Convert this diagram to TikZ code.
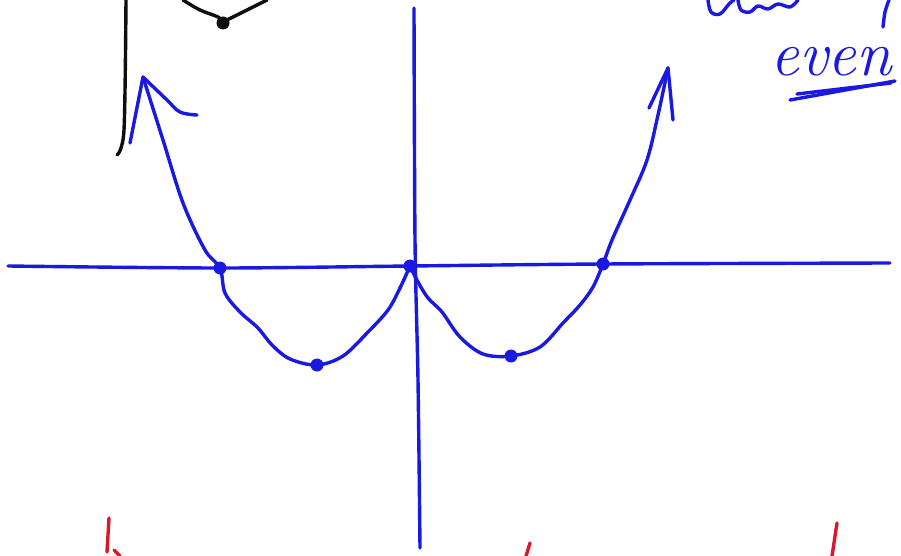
\documentclass[tikz,border=0pt]{standalone}
\usepackage{tikz}
\usetikzlibrary{positioning}
\definecolor{penblue}{RGB}{25, 25, 225}
\definecolor{penred}{RGB}{215, 25, 45}
\definecolor{penblack}{RGB}{15, 15, 15}
\tikzset{
  ink/.style={
    draw=penblue,
    line width=3.4pt,
    line cap=round,
    line join=round
  },
  blackink/.style={
    ink,
    draw=penblack
  },
  redink/.style={
    ink,
    draw=penred
  },
  dot/.style={
    fill=penblue
  },
  scrawl/.style={
    text=penblue,
    inner sep=0pt,
    anchor=base west,
    font=\fontsize{64}{64}\selectfont\itshape
  }
}

\begin{document}
\begin{tikzpicture}[x=1pt, y=-1pt]
          \useasboundingbox (0,0) rectangle (901,556);
          \clip (0,0) rectangle (901,556);

          % points on the curve
          \coordinate (z1) at (220,268);
          \coordinate (m1) at (317,365);
          \coordinate (o) at (410,266);
          \coordinate (m2) at (511,356);
          \coordinate (z2) at (603,264);
          \coordinate (tipL) at (143,77);
          \coordinate (tipR) at (668,68);

          % axes
          \draw[ink] plot[smooth, tension=0.5] coordinates {(8,266) (z1) (o) (z2) (890,263)};
          \draw[ink] plot[smooth, tension=0.5] coordinates {(414,8) (415,240) (418,380) (420,548)};

          % left branch
          \draw[ink] plot[smooth, tension=0.55] coordinates {(tipL) (163,140) (183,203) (205,250) (z1)
            (225,293) (240,312) (258,328) (272,345) (290,359) (m1) (343,356) (368,332) (388,310) (400,288) (o)};
          % right branch
          \draw[ink] plot[smooth, tension=0.55] coordinates {(o) (418,282) (428,298) (442,312) (460,337)
            (483,354) (m2) (540,347) (563,323) (580,305) (593,287) (z2) (612,240) (630,200) (647,160) (658,115) (tipR)};

          % hand drawn arrow heads
          \draw[ink] (tipL) -- (130,143);
          \draw[ink] plot[smooth, tension=0.6] coordinates {(tipL) (167,100) (180,112) (197,115)};
          \draw[ink] (tipR) -- (649,108);
          \draw[ink] (tipR) -- (673,120);

          % marked points
          \foreach \p in {z1, m1, o, m2, z2}
            \fill[dot] (\p) circle (6.5pt);

          % black sketch, top left
          \draw[blackink] plot[smooth, tension=0.5] coordinates {(126,0) (124,130) (117,155)};
          \draw[blackink] plot[smooth, tension=0.6] coordinates {(183,0) (200,10) (218,17) (223,22)};
          \draw[blackink] plot[smooth, tension=0.6] coordinates {(223,22) (237,15) (253,7) (267,0)};
          \coordinate (bd) at (223,23);
          \fill[penblack] (bd) circle (6.5pt);

          % note, top right
          \draw[ink] plot[smooth, tension=0.6] coordinates {(708,0) (711,12) (720,14) (729,4) (734,0)};
          \draw[ink] plot[smooth, tension=0.6] coordinates {(738,0) (741,10) (750,12) (758,6) (768,9) (778,4) (790,7) (798,0)};
          \draw[ink] plot[smooth, tension=0.6] coordinates {(889,0) (885,12) (883,27)};
          \node[scrawl] (even) at (770,76) {even};
          \draw[ink] (790,100) -- (895,81);
          \draw[ink] (797,94) -- (891,83);

          % red marks, bottom
          \draw[redink] (109,518) -- (107,552);
          \draw[redink] (114,550) -- (120,556);
          \draw[redink] (530,543) -- (526,556);
          \draw[redink] (837,523) -- (832,556);
        \end{tikzpicture}
\end{document}
